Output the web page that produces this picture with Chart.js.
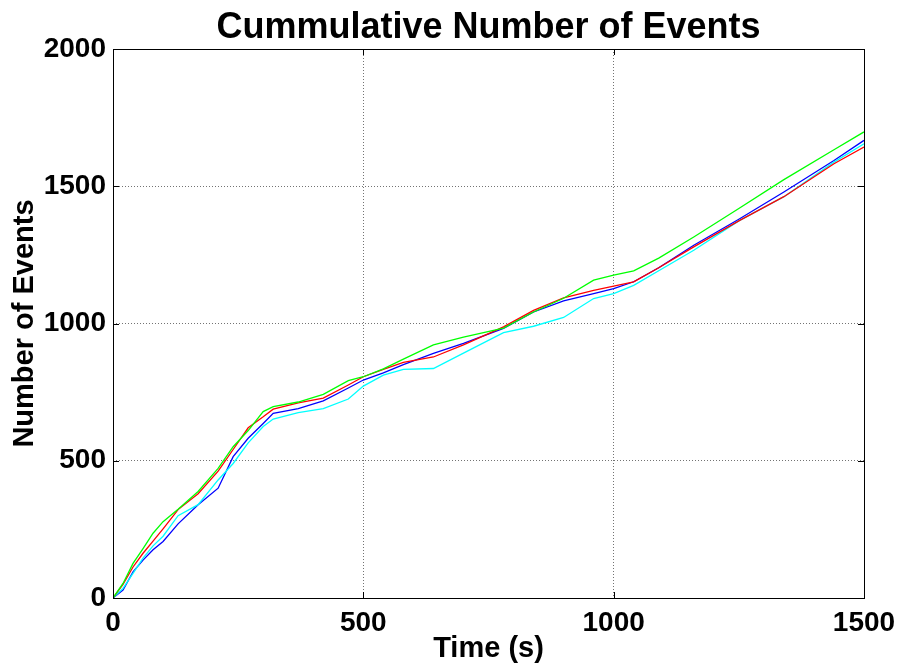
<!DOCTYPE html>
<html>
<head>
<meta charset="utf-8">
<title>Cummulative Number of Events</title>
<script src="https://cdn.jsdelivr.net/npm/chart.js@4.4.1/dist/chart.umd.min.js"></script>
<style>
    html, body { margin: 0; padding: 0; background: #fff; }
    #wrap { width: 900px; height: 670px; }
</style>
</head>
<body>
<div id="wrap"><canvas id="eventsChart" width="900" height="670"></canvas></div>
<script>
// Sample times (s) and cumulative counts per run
const times  = [0, 20, 40, 60, 80, 100, 130, 170, 210, 240, 270, 300, 320, 370, 420, 470, 500, 540, 580, 640, 700, 780, 840, 900, 960, 1000, 1040, 1090, 1160, 1250, 1340, 1440, 1500];
const green  = [0, 53, 126, 180, 236, 278, 323, 388, 472, 551, 610, 679, 697, 714, 742, 792, 806, 835, 870, 922, 950, 983, 1042, 1092, 1158, 1176, 1192, 1238, 1315, 1419, 1524, 1633, 1698];
const red    = [0, 50, 113, 163, 207, 252, 322, 380, 462, 541, 620, 660, 688, 711, 728, 776, 806, 833, 858, 878, 922, 988, 1048, 1093, 1121, 1136, 1152, 1203, 1279, 1374, 1462, 1582, 1643];
const cyan   = [0, 35, 90, 145, 190, 225, 300, 340, 430, 490, 565, 625, 652, 675, 690, 725, 772, 812, 833, 836, 892, 967, 990, 1022, 1091, 1109, 1139, 1192, 1267, 1374, 1462, 1588, 1655];
const blue   = [0, 29, 95, 138, 176, 206, 270, 340, 400, 515, 582, 636, 673, 690, 718, 765, 794, 820, 850, 891, 928, 982, 1042, 1082, 1109, 1127, 1152, 1203, 1285, 1380, 1479, 1594, 1667];

const xTicks = [0, 500, 1000, 1500];
const yTicks = [0, 500, 1000, 1500, 2000];

const chartTitle = 'Cummulative Number of Events';
const FONT = "'Liberation Sans', Arial, Helvetica, sans-serif";

function toPoints(values) {
    return times.map((t, i) => ({x: t, y: values[i]}));
}

function series(values, color) {
    return {
        data: toPoints(values),
        borderColor: color,
        backgroundColor: color,
        borderWidth: 1.3,
        pointRadius: 0,
        tension: 0,
        fill: false
    };
}

// black box round the plot, inward tick marks, and the title centred over the plot
const boxPlugin = {
    id: 'box',
    afterDraw(chart) {
        const {ctx, chartArea: a, scales} = chart;
        ctx.save();
        ctx.strokeStyle = '#000';
        ctx.lineWidth = 1;
        ctx.strokeRect(a.left + 0.5, a.top + 0.5, a.right - a.left, a.bottom - a.top);
        const len = 6;
        ctx.beginPath();
        for (let v of xTicks) {
            let px = Math.round(scales.x.getPixelForValue(v)) + 0.5;
            ctx.moveTo(px, a.bottom); ctx.lineTo(px, a.bottom - len);
            ctx.moveTo(px, a.top); ctx.lineTo(px, a.top + len);
        }
        for (let v of yTicks) {
            let py = Math.round(scales.y.getPixelForValue(v)) + 0.5;
            ctx.moveTo(a.left, py); ctx.lineTo(a.left + len, py);
            ctx.moveTo(a.right, py); ctx.lineTo(a.right - len, py);
        }
        ctx.stroke();

        ctx.fillStyle = '#000';
        ctx.font = `bold 36px ${FONT}`;
        ctx.textAlign = 'center';
        ctx.textBaseline = 'alphabetic';
        ctx.fillText(chartTitle, (a.left + a.right) / 2, 38);
        ctx.restore();
    }
};

function initiate_chart() {
    const ctx = document.getElementById('eventsChart').getContext('2d');
    const gridStyle = {
        color: 'rgba(0, 0, 0, 0.55)',
        lineWidth: 1,
        drawTicks: false
    };
    new Chart(ctx, {
        type: 'line',
        data: {
            datasets: [
                series(green, 'rgb(0, 255, 0)'),
                series(red, 'rgb(255, 0, 0)'),
                series(cyan, 'rgb(0, 255, 255)'),
                series(blue, 'rgb(0, 0, 255)')
            ]
        },
        options: {
            responsive: false,
            animation: false,
            layout: {
                padding: {left: 0, right: 36, top: 49, bottom: 0}
            },
            scales: {
                x: {
                    type: 'linear',
                    min: 0,
                    max: 1500,
                    afterBuildTicks: (axis) => { axis.ticks = xTicks.map(v => ({value: v})); },
                    afterFit: (axis) => {
                        axis.height = 72;
                        axis.paddingLeft = 0;
                        axis.paddingRight = 0;
                    },
                    grid: gridStyle,
                    border: {display: false, dash: [1, 2]},
                    ticks: {
                        color: '#000',
                        padding: 8,
                        maxRotation: 0,
                        callback: (v) => String(v),
                        font: {family: FONT, size: 28, weight: 'bold'}
                    },
                    title: {
                        display: true,
                        text: 'Time (s)',
                        color: '#000',
                        padding: {top: 0, bottom: 4},
                        font: {family: FONT, size: 29, weight: 'bold'}
                    }
                },
                y: {
                    type: 'linear',
                    min: 0,
                    max: 2000,
                    afterBuildTicks: (axis) => { axis.ticks = yTicks.map(v => ({value: v})); },
                    afterFit: (axis) => { axis.width = 113; },
                    grid: gridStyle,
                    border: {display: false, dash: [1, 2]},
                    ticks: {
                        color: '#000',
                        padding: 7,
                        callback: (v) => String(v),
                        font: {family: FONT, size: 28, weight: 'bold'}
                    },
                    title: {
                        display: true,
                        text: 'Number of Events',
                        color: '#000',
                        padding: {top: 8, bottom: 0},
                        font: {family: FONT, size: 29, weight: 'bold'}
                    }
                }
            },
            plugins: {
                legend: {display: false},
                tooltip: {enabled: false},
                title: {display: false}
            }
        },
        plugins: [boxPlugin]
    });
}

initiate_chart();
</script>
</body>
</html>
